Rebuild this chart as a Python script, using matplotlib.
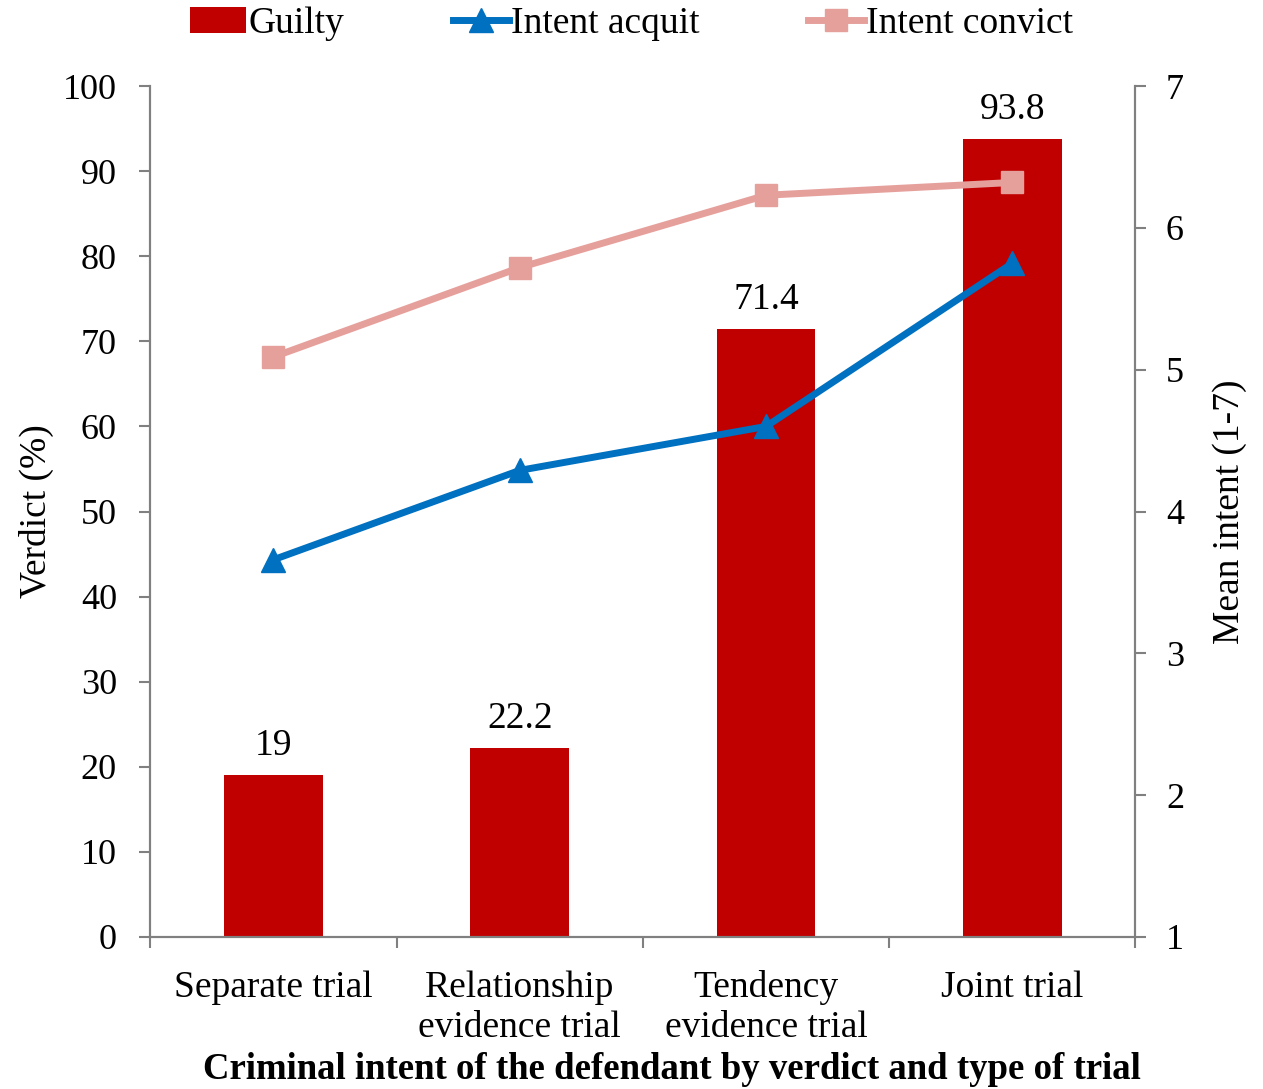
import matplotlib.pyplot as plt
import numpy as np
from matplotlib.patches import Patch
from matplotlib.lines import Line2D

plt.rcParams['font.family'] = ['Liberation Serif', 'DejaVu Serif']

categories = ["Separate trial", "Relationship\nevidence trial", "Tendency\nevidence trial", "Joint trial"]
guilty = [19, 22.2, 71.4, 93.8]
intent_acquit = [3.66, 4.29, 4.60, 5.75]
intent_convict = [5.09, 5.72, 6.23, 6.32]

bar_color = '#C00000'
acquit_color = '#0070C0'
convict_color = '#E6A09C'
axis_gray = '#808080'

fig = plt.figure(figsize=(12.63, 10.89), dpi=100)
ax = fig.add_axes([0.119, 0.1396, 0.780, 0.7814])
x = np.arange(len(categories))

ax.bar(x, guilty, width=0.4, color=bar_color, zorder=2)
for xi, v in zip(x, guilty):
    ax.text(xi, v + 1.4, f"{v:g}", ha='center', va='bottom', fontsize=27)

ax.set_xlim(-0.5, len(categories) - 0.5)
ax.set_ylim(0, 100)
ax.set_yticks(range(0, 101, 10))
ax.set_xticks(x)
ax.set_xticklabels(categories, fontsize=27, linespacing=1.2)
ax.set_xticks(np.arange(-0.5, len(categories), 1), minor=True)
ax.tick_params(axis='x', which='major', length=0, pad=24)
ax.tick_params(axis='x', which='minor', length=8, color=axis_gray, width=1.5)
ax.tick_params(axis='y', labelsize=26, length=8, color=axis_gray, width=1.5, pad=16)
ax.set_ylabel("Verdict (%)", fontsize=27)
ax.yaxis.set_label_coords(-0.098, 0.5)
ax.set_xlabel("Criminal intent of the defendant by verdict and type of trial",
              fontsize=26.5, fontweight='bold')
ax.xaxis.set_label_coords(0.53, -0.135)

for s in ['top']:
    ax.spines[s].set_visible(False)
for s in ['left', 'bottom', 'right']:
    ax.spines[s].set_color(axis_gray)
    ax.spines[s].set_linewidth(1.5)

ax2 = ax.twinx()
ax2.plot(x, intent_convict, color=convict_color, lw=5, marker='s', markersize=16, zorder=3)
ax2.plot(x, intent_acquit, color=acquit_color, lw=5, marker='^', markersize=17, zorder=3)
ax2.set_ylim(1, 7)
ax2.set_yticks(range(1, 8))
ax2.tick_params(axis='y', labelsize=26, length=8, color=axis_gray, width=1.5, pad=14)
ax2.set_ylabel("Mean intent (1-7)", fontsize=27, labelpad=20)
ax2.spines['top'].set_visible(False)
for s in ['left', 'bottom', 'right']:
    ax2.spines[s].set_color(axis_gray)
    ax2.spines[s].set_linewidth(1.5)

handles = [
    Patch(facecolor=bar_color, label='Guilty'),
    Line2D([0], [0], color=acquit_color, lw=5, marker='^', markersize=17, label='Intent acquit'),
    Line2D([0], [0], color=convict_color, lw=5, marker='s', markersize=16, label='Intent convict'),
]
fig.legend(handles=handles, loc='upper center', bbox_to_anchor=(0.5, 1.025), ncol=3,
           frameon=False, fontsize=27, handlelength=1.5, handletextpad=0.05, columnspacing=2.9)

plt.savefig("out.png", dpi=100)
